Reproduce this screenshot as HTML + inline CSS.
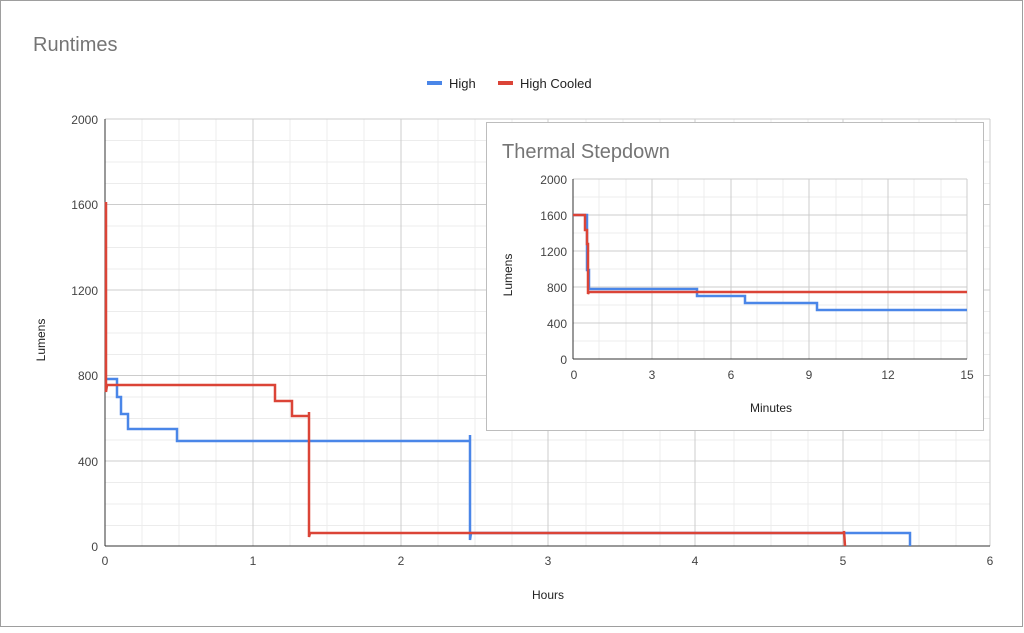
<!DOCTYPE html>
<html><head><meta charset="utf-8"><style>
body{margin:0;background:#fff;font-family:"Liberation Sans",Arial,sans-serif}
</style></head><body>
<svg width="1024" height="628" xmlns="http://www.w3.org/2000/svg" font-family="Liberation Sans, Arial, sans-serif">
<rect x="0.5" y="0.5" width="1022" height="626" fill="#fff" stroke="#9e9e9e"/>
<text x="33" y="51" font-size="20" fill="#757575">Runtimes</text>
<line x1="427" y1="83" x2="442" y2="83" stroke="#4a86e8" stroke-width="4"/>
<text x="449" y="88" font-size="13" fill="#222">High</text>
<line x1="498" y1="83" x2="513" y2="83" stroke="#db4437" stroke-width="4"/>
<text x="520" y="88" font-size="13" fill="#222">High Cooled</text>
<g stroke="#ececec" stroke-width="1">
<path d="M142 119V546M179 119V546M216 119V546M290 119V546M327 119V546M364 119V546M438 119V546M475 119V546M512 119V546M586 119V546M623 119V546M660 119V546M734 119V546M771 119V546M808 119V546M882 119V546M919 119V546M956 119V546"/>
<path d="M105 140.5H990M105 162H990M105 183.5H990M105 226H990M105 247.5H990M105 269H990M105 311.5H990M105 333H990M105 354.5H990M105 397H990M105 418.5H990M105 440H990M105 482.5H990M105 504H990M105 525.5H990"/>
</g>
<g stroke="#cccccc" stroke-width="1">
<path d="M253 119V546M401 119V546M548 119V546M695 119V546M843 119V546M990 119V546"/>
<path d="M105 119H990M105 204.5H990M105 290H990M105 375.5H990M105 461H990"/>
</g>
<line x1="105" y1="119" x2="105" y2="546" stroke="#333"/>
<line x1="105" y1="546" x2="990" y2="546" stroke="#333"/>
<g font-size="12" fill="#444" text-anchor="end">
<text x="98" y="124">2000</text><text x="98" y="209">1600</text><text x="98" y="295">1200</text><text x="98" y="380">800</text><text x="98" y="466">400</text><text x="98" y="551">0</text>
</g>
<g font-size="12" fill="#444" text-anchor="middle">
<text x="105" y="565">0</text><text x="253" y="565">1</text><text x="401" y="565">2</text><text x="548" y="565">3</text><text x="695" y="565">4</text><text x="843" y="565">5</text><text x="990" y="565">6</text>
</g>
<text x="548" y="599" font-size="12" fill="#222" text-anchor="middle">Hours</text>
<text transform="translate(45,340) rotate(-90)" font-size="12" fill="#222" text-anchor="middle">Lumens</text>
<polyline fill="none" stroke="#4a86e8" stroke-width="2.5" points="105,379 117,379 117,397 121,397 121,414 128,414 128,429 177,429 177,441 470,441 470,435 470,540 471,533 910,533 910,546"/>
<polyline fill="none" stroke="#db4437" stroke-width="2.5" points="106,392 106,202 106,392 107,385 275,385 275,401 292,401 292,416 309,416 309,412 309,537 310,533 844,533 844,531 845,546"/>
<rect x="486.5" y="122.5" width="497" height="308" fill="#fff" stroke="#bdbdbd"/>
<text x="502" y="158" font-size="20" fill="#757575">Thermal Stepdown</text>
<g stroke="#ececec">
<path d="M599 179V359M626 179V359M678 179V359M704 179V359M757 179V359M783 179V359M836 179V359M862 179V359M914 179V359M941 179V359"/>
<path d="M573 197H967M573 233H967M573 269H967M573 305H967M573 341H967"/>
</g>
<g stroke="#cccccc">
<path d="M652 179V359M731 179V359M809 179V359M888 179V359M967 179V359"/>
<path d="M573 179H967M573 215H967M573 251H967M573 287H967M573 323H967"/>
</g>
<line x1="573" y1="179" x2="573" y2="359" stroke="#333"/>
<line x1="573" y1="359" x2="967" y2="359" stroke="#333"/>
<g font-size="12" fill="#444" text-anchor="end">
<text x="567" y="184">2000</text><text x="567" y="220">1600</text><text x="567" y="256">1200</text><text x="567" y="292">800</text><text x="567" y="328">400</text><text x="567" y="364">0</text>
</g>
<g font-size="12" fill="#444" text-anchor="middle">
<text x="574" y="379">0</text><text x="652" y="379">3</text><text x="731" y="379">6</text><text x="809" y="379">9</text><text x="888" y="379">12</text><text x="967" y="379">15</text>
</g>
<text x="771" y="412" font-size="12" fill="#222" text-anchor="middle">Minutes</text>
<text transform="translate(512,275) rotate(-90)" font-size="12" fill="#222" text-anchor="middle">Lumens</text>
<polyline fill="none" stroke="#4a86e8" stroke-width="2.5" points="573,215 587,215 587,270 589,270 589,289 697,289 697,296 745,296 745,303 817,303 817,310 967,310"/>
<polyline fill="none" stroke="#db4437" stroke-width="2.5" points="573,215 585,215 585,230 587,230 587,244 588,244 588,294 589,292 967,292"/>
</svg>
</body></html>
